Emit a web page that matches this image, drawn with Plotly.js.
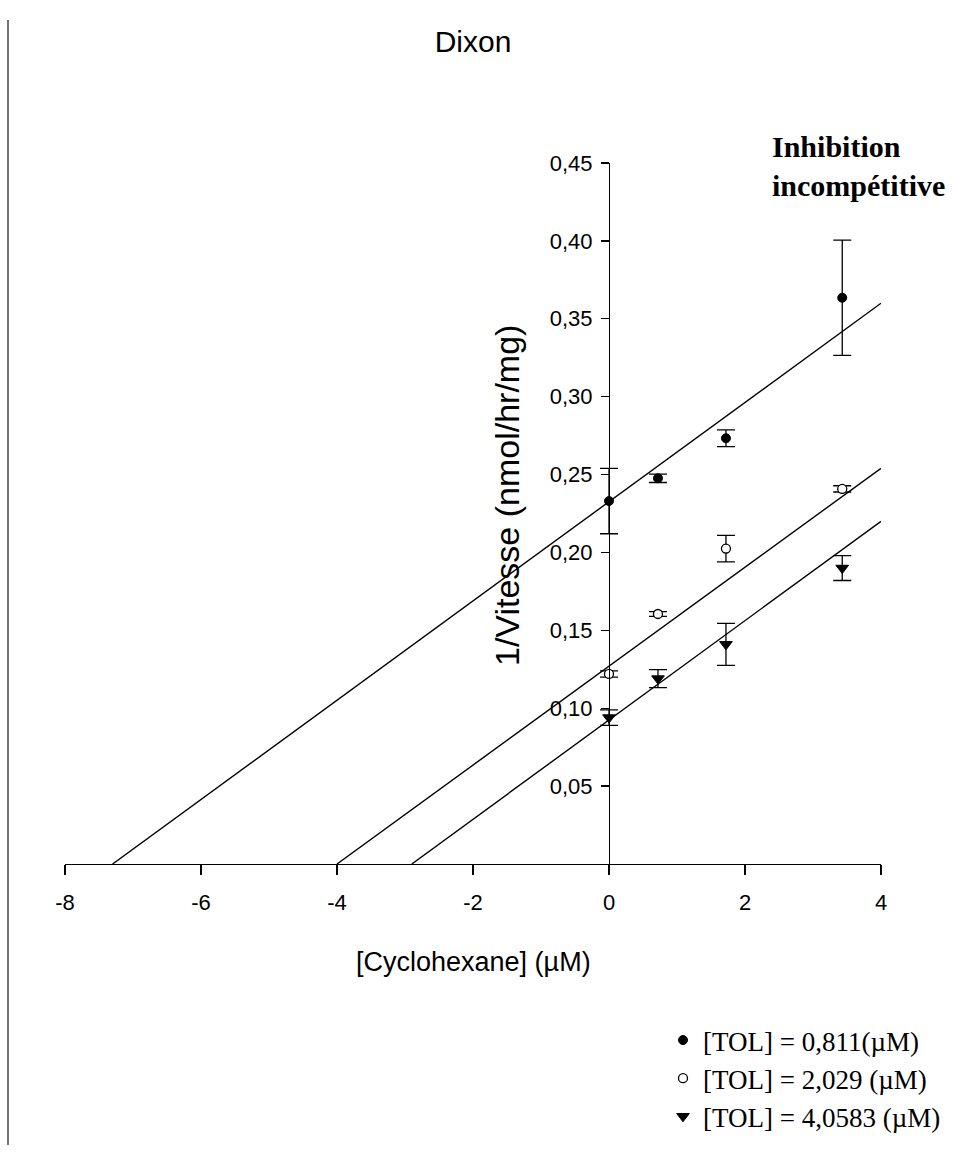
<!DOCTYPE html>
<html>
<head>
<meta charset="utf-8">
<script src="https://cdn.plot.ly/plotly-3.0.1.min.js"></script>
<style>html,body{margin:0;padding:0;background:#fff;}#chart{width:954px;height:1152px;}</style>
</head>
<body>
<div id="chart"></div>
<script>
// Cyclohexane concentration (µM) for measured points
const xPoints = [0, 0.72, 1.72, 3.43];

// [TOL] = 0,811 µM (filled circles)
const s1Name = "[TOL] = 0,811(\u00b5M)";
const s1Y = [0.233, 0.2476, 0.2733, 0.3635];
const s1Err = [0.021, 0.0027, 0.0054, 0.037];

// [TOL] = 2,029 µM (open circles)
const s2Name = "[TOL] = 2,029 (\u00b5M)";
const s2Y = [0.122, 0.1605, 0.2025, 0.2408];
const s2Err = [0.002, 0.0015, 0.0085, 0.002];

// [TOL] = 4,0583 µM (down triangles)
const s3Name = "[TOL] = 4,0583 (\u00b5M)";
const s3Y = [0.094, 0.119, 0.1410, 0.190];
const s3Err = [0.005, 0.0058, 0.0135, 0.008];

// Fitted Dixon lines (end points)
const fit1X = [-7.3, 4];  const fit1Y = [0, 0.360];
const fit2X = [-4.0, 4];  const fit2Y = [0, 0.254];
const fit3X = [-2.9, 4];  const fit3Y = [0, 0.220];

// Tick labels
const xTickVals = [-8, -6, -4, -2, 0, 2, 4];
const xTickText = ["-8", "-6", "-4", "-2", "0", "2", "4"];
const yTickVals = [0.05, 0.10, 0.15, 0.20, 0.25, 0.30, 0.35, 0.40, 0.45];
const yTickText = ["0,05", "0,10", "0,15", "0,20", "0,25", "0,30", "0,35", "0,40", "0,45"];

const SANS = "Liberation Sans, Arial, sans-serif";
const SERIF = "Liberation Serif, Times New Roman, serif";

function errBar(arr) {
  return {type: "data", array: arr, visible: true, color: "#000", thickness: 1.3, width: 9};
}
function fitLine(x, y) {
  return {x: x, y: y, mode: "lines", line: {color: "#000", width: 1.4}, showlegend: false, hoverinfo: "skip"};
}

const traces = [
  fitLine(fit1X, fit1Y),
  fitLine(fit2X, fit2Y),
  fitLine(fit3X, fit3Y),
  {x: xPoints, y: s1Y, name: s1Name, mode: "markers", error_y: errBar(s1Err),
   marker: {symbol: "circle", size: 9, color: "#000", line: {color: "#000", width: 1}}},
  {x: xPoints, y: s2Y, name: s2Name, mode: "markers", error_y: errBar(s2Err),
   marker: {symbol: "circle", size: 9, color: "#fff", line: {color: "#000", width: 1.3}}},
  {x: xPoints, y: s3Y, name: s3Name, mode: "markers", error_y: errBar(s3Err),
   marker: {symbol: "triangle-down", size: 11, color: "#000", line: {color: "#000", width: 1}}}
];

const layout = {
  width: 954, height: 1152,
  paper_bgcolor: "#fff", plot_bgcolor: "#fff",
  margin: {l: 65, r: 73, t: 163, b: 288, autoexpand: false},
  font: {family: SANS, color: "#000", size: 22},
  title: {text: "Dixon", font: {family: SANS, size: 30, color: "#000"},
          xref: "paper", x: 0.5, xanchor: "center", yref: "container", y: 0.964, yanchor: "middle"},
  xaxis: {range: [-8, 4], tickvals: xTickVals, ticktext: xTickText,
          showline: true, linecolor: "#000", linewidth: 1.4, ticks: "outside", ticklen: 10,
          tickwidth: 1.4, tickcolor: "#000", showgrid: false, zeroline: false, automargin: false,
          tickfont: {family: SANS, size: 22, color: "#000"}, ticklabelstandoff: 8},
  yaxis: {range: [0, 0.45], tickvals: yTickVals, ticktext: yTickText, anchor: "free", position: 8 / 12,
          showline: true, linecolor: "#000", linewidth: 1.2, ticks: "outside", ticklen: 8,
          tickwidth: 1.4, tickcolor: "#000", showgrid: false, zeroline: false, automargin: false,
          tickfont: {family: SANS, size: 22, color: "#000"}, ticklabelstandoff: 4},
  showlegend: true,
  legend: {x: (663 - 65) / 816, xanchor: "left", y: (864 - 1016) / 701, yanchor: "top",
           bgcolor: "rgba(0,0,0,0)", borderwidth: 0,
           font: {family: SERIF, size: 27, color: "#000"}},
  annotations: [
    {text: "[Cyclohexane] (\u00b5M)", xref: "paper", yref: "paper", x: 0.5, y: (864 - 962) / 701,
     xanchor: "center", yanchor: "middle", showarrow: false, font: {family: SANS, size: 27, color: "#000"}},
    {text: "1/Vitesse (nmol/hr/mg)", xref: "paper", yref: "paper", x: (507 - 65) / 816, y: (864 - 495) / 701,
     xanchor: "center", yanchor: "middle", textangle: -90, showarrow: false,
     font: {family: SANS, size: 34, color: "#000"}},
    {text: "Inhibition<br>incomp\u00e9titive", xref: "paper", yref: "paper", x: (770 - 65) / 816, y: (864 - 166) / 701,
     xanchor: "left", yanchor: "middle", align: "left", showarrow: false,
     font: {family: SERIF, size: 30, color: "#000", weight: "bold"}}
  ],
  shapes: [
    {type: "line", xref: "paper", yref: "paper", x0: (8 - 65) / 816, x1: (8 - 65) / 816,
     y0: (864 - 20) / 701, y1: (864 - 1145) / 701, line: {color: "#444", width: 1.5}}
  ]
};

Plotly.newPlot("chart", traces, layout, {displayModeBar: false, staticPlot: true});
</script>
</body>
</html>
